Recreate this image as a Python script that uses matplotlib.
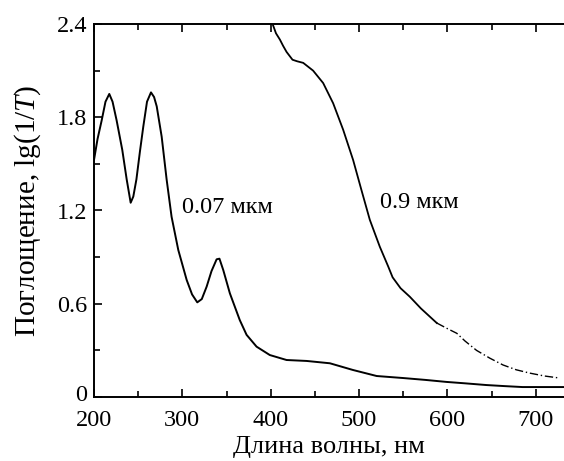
import matplotlib
matplotlib.use("Agg")
import matplotlib.pyplot as plt
import matplotlib.transforms as mtransforms
from matplotlib.ticker import MultipleLocator

plt.rcParams['font.family'] = ['Liberation Serif', 'DejaVu Serif']
plt.rcParams['mathtext.fontset'] = 'custom'
plt.rcParams['mathtext.it'] = 'Liberation Serif:italic'
plt.rcParams['mathtext.rm'] = 'Liberation Serif'

# 0.07 um film
wl_thin = [200, 204, 208.7, 213, 217.3, 221, 225.6, 232, 237, 241.5, 244.5, 248, 252, 255.8, 260,
           264.5, 268, 271, 276.6, 282.2, 287.8, 295.4, 304.9, 311, 316.9, 322, 327.5, 333,
           338.8, 342, 346.3, 353.8, 365, 372.7, 384, 399, 418, 440.6, 467, 493, 520, 550,
           575, 599, 620, 644, 665, 685, 710, 732]
ab_thin = [1.525, 1.66, 1.78, 1.90, 1.95, 1.90, 1.78, 1.59, 1.40, 1.25, 1.29, 1.40, 1.58, 1.74,
           1.90, 1.96, 1.93, 1.87, 1.675, 1.40, 1.16, 0.946, 0.753, 0.66, 0.609, 0.63, 0.71,
           0.81, 0.886, 0.89, 0.817, 0.667, 0.495, 0.40, 0.324, 0.27, 0.238, 0.232, 0.217,
           0.174, 0.135, 0.122, 0.11, 0.097, 0.088, 0.077, 0.07, 0.064, 0.064, 0.064]

# 0.9 um film (solid part)
wl_thick = [402.8, 406, 410.4, 414, 418, 424.7, 430, 436.8, 448, 459.4, 470.7, 482, 493.3,
            502.8, 512.2, 523.5, 533, 538, 547, 557.5, 570, 588]
ab_thick = [2.39, 2.34, 2.30, 2.26, 2.22, 2.17, 2.16, 2.15, 2.10, 2.02, 1.89, 1.72, 1.525,
            1.33, 1.14, 0.967, 0.84, 0.77, 0.70, 0.645, 0.57, 0.476]
# 0.9 um film (broken tail)
wl_tail = [588, 600, 610.6, 620, 633, 648, 663, 678, 693, 710, 727]
ab_tail = [0.476, 0.44, 0.41, 0.36, 0.30, 0.25, 0.206, 0.175, 0.154, 0.135, 0.122]

xticks = [200, 300, 400, 500, 600, 700]
yticks = [0, 0.6, 1.2, 1.8, 2.4]
ytick_labels = ['0', '0.6', '1.2', '1.8', '2.4']

fig = plt.figure(figsize=(5.64, 4.61), dpi=100)
ax = fig.add_axes([94/564, 1-397/461, 1-94/564, (397-24)/461])

ax.plot(wl_thin, ab_thin, color='black', lw=1.4)
ax.plot(wl_thick, ab_thick, color='black', lw=1.3)
ax.plot(wl_tail, ab_tail, color='black', lw=1.0, ls=(0, (6, 2, 1, 2)))

ax.text(300, 1.22, '0.07 мкм', fontsize=17.5, va='center', ha='left')
ax.text(524, 1.25, '0.9 мкм', fontsize=17.5, va='center', ha='left')

ax.set_xlim(200, 732)
ax.set_ylim(0, 2.4)
ax.set_xticks(xticks)
ax.set_yticks(yticks)
ax.set_yticklabels(ytick_labels)
ax.xaxis.set_minor_locator(MultipleLocator(50))
ax.yaxis.set_minor_locator(MultipleLocator(0.3))
ax.tick_params(which='both', direction='in', top=True, right=False, labelsize=17.5, width=1.2)
ax.tick_params(which='major', length=6)
ax.tick_params(which='minor', length=4)
ax.tick_params(axis='x', pad=9)
ax.tick_params(axis='y', pad=5)
ax.spines['right'].set_visible(False)
for s in ['left', 'bottom', 'top']:
    ax.spines[s].set_linewidth(1.4)

# nudge the "0" y tick label up slightly, as in the reference
zero_label = ax.get_yticklabels()[0]
zero_label.set_transform(zero_label.get_transform() +
                         mtransforms.ScaledTranslation(0, 4/100, fig.dpi_scale_trans))

ax.set_xlabel('Длина волны, нм', fontsize=19, labelpad=4)
ax.set_ylabel('Поглощение, lg(1/$\\mathit{T}$)', fontsize=21, labelpad=10)

fig.savefig('out.png', dpi=100)
